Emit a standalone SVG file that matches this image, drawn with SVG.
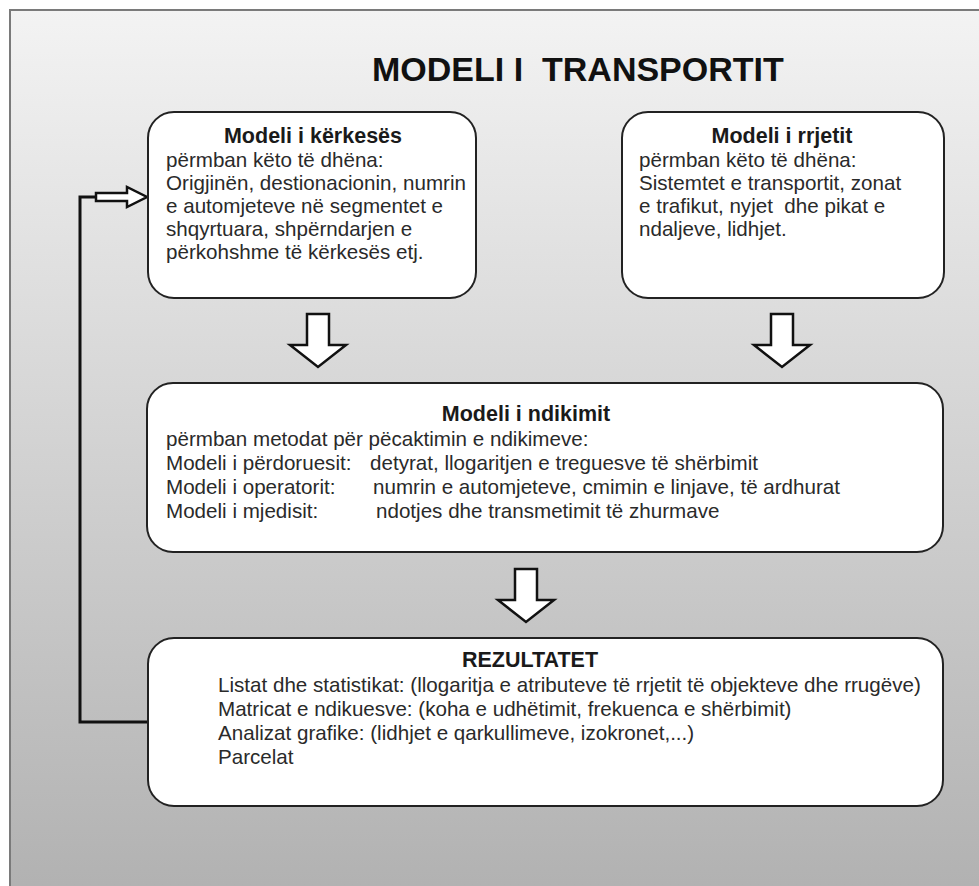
<svg xmlns="http://www.w3.org/2000/svg" width="979" height="886" viewBox="0 0 979 886">
<defs>
<linearGradient id="bg" x1="0" y1="0" x2="0" y2="1">
<stop offset="0" stop-color="#f3f3f3"/>
<stop offset="1" stop-color="#b0b0b0"/>
</linearGradient>
<style>
text{font-family:"Liberation Sans",Arial,sans-serif;white-space:pre;}
.title{font-size:34px;font-weight:bold;fill:#111;}
.head{font-size:21.5px;font-weight:bold;fill:#1a1a1a;text-anchor:middle;}
.body{font-size:20.6px;fill:#2a2a2a;}
.box{fill:#fff;stroke:#222;stroke-width:2;}
.blk{fill:#fff;stroke:#111;stroke-width:2.5;stroke-linejoin:miter;}
.con{fill:none;stroke:#111;stroke-width:3;}
</style>
</defs>
<rect x="0" y="0" width="979" height="886" fill="#fff"/>
<rect x="10" y="10" width="990" height="900" fill="url(#bg)" stroke="#7a7a7a" stroke-width="2"/>
<text class="title" x="372" y="81" xml:space="preserve">MODELI I  TRANSPORTIT</text>

<g id="connectors">
<path class="con" d="M148,722 H80 V197 H96"/>
<polygon class="blk" points="96,193 127,193 127,187 147,197 127,207 127,201 96,201"/>
<polygon class="blk" points="307,314 329,314 329,345 346,345 318,367 290,345 307,345"/>
<polygon class="blk" points="771,314 793,314 793,345 810,345 782,367 754,345 771,345"/>
<polygon class="blk" points="515,569 537,569 537,600 554,600 526,622 498,600 515,600"/>
</g>

<g id="demand">
<rect class="box" x="148" y="112" width="328" height="186" rx="26"/>
<text class="head" x="313" y="143">Modeli i kërkesës</text>
<text class="body" x="166" y="167">përmban këto të dhëna:</text>
<text class="body" x="166" y="190">Origjinën, destionacionin, numrin</text>
<text class="body" x="166" y="213">e automjeteve në segmentet e</text>
<text class="body" x="166" y="236">shqyrtuara, shpërndarjen e</text>
<text class="body" x="166" y="259">përkohshme të kërkesës etj.</text>
</g>

<g id="network">
<rect class="box" x="622" y="112" width="322" height="186" rx="26"/>
<text class="head" x="782" y="143">Modeli i rrjetit</text>
<text class="body" x="639" y="167">përmban këto të dhëna:</text>
<text class="body" x="639" y="190">Sistemtet e transportit, zonat</text>
<text class="body" x="639" y="213" xml:space="preserve">e trafikut, nyjet  dhe pikat e</text>
<text class="body" x="639" y="236">ndaljeve, lidhjet.</text>
</g>

<g id="impact">
<rect class="box" x="147" y="383" width="796" height="169" rx="26"/>
<text class="head" x="526" y="421">Modeli i ndikimit</text>
<text class="body" x="166" y="446">përmban metodat për pëcaktimin e ndikimeve:</text>
<text class="body" x="166" y="470">Modeli i përdoruesit:</text>
<text class="body" x="370" y="470">detyrat, llogaritjen e treguesve të shërbimit</text>
<text class="body" x="166" y="494">Modeli i operatorit:</text>
<text class="body" x="373" y="494">numrin e automjeteve, cmimin e linjave, të ardhurat</text>
<text class="body" x="166" y="518">Modeli i mjedisit:</text>
<text class="body" x="376" y="518">ndotjes dhe transmetimit të zhurmave</text>
</g>

<g id="results">
<rect class="box" x="148" y="638" width="795" height="168" rx="26"/>
<text class="head" x="530" y="667">REZULTATET</text>
<text class="body" x="218" y="692">Listat dhe statistikat: (llogaritja e atributeve të rrjetit të objekteve dhe rrugëve)</text>
<text class="body" x="218" y="716">Matricat e ndikuesve: (koha e udhëtimit, frekuenca e shërbimit)</text>
<text class="body" x="218" y="740">Analizat grafike: (lidhjet e qarkullimeve, izokronet,...)</text>
<text class="body" x="218" y="764">Parcelat</text>
</g>
</svg>
